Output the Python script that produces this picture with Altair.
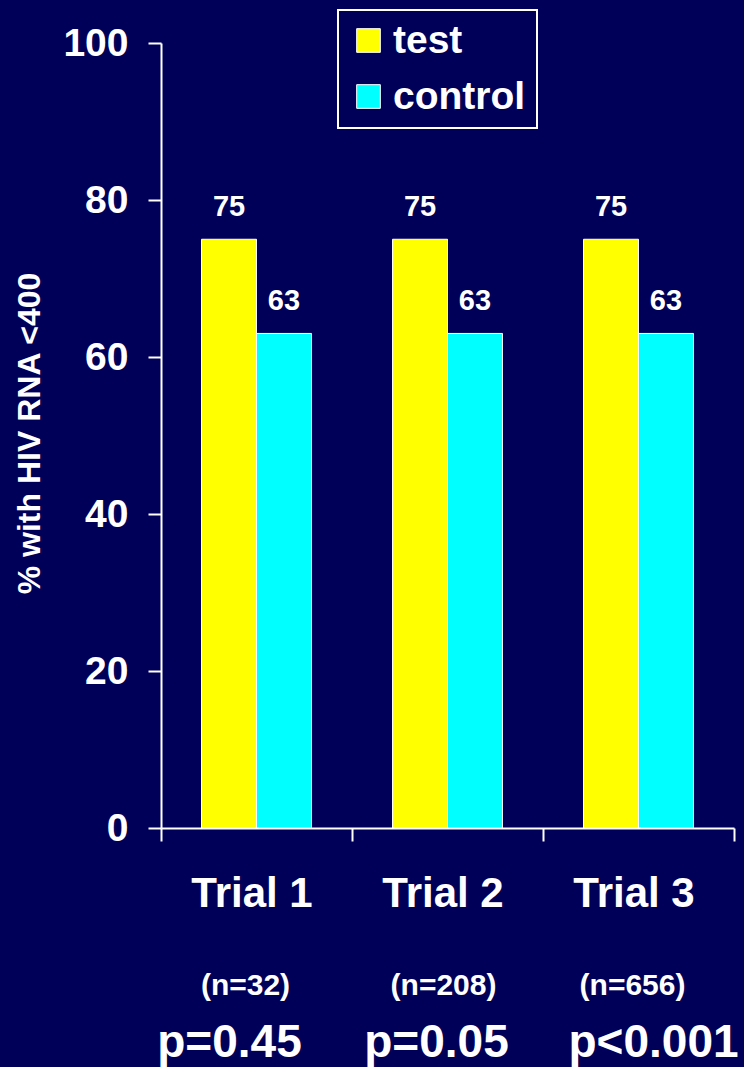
import altair as alt
import pandas as pd

# Chart data
trials = ["Trial 1", "Trial 2", "Trial 3"]
groups = ["test", "control"]
test_pct = [75, 75, 75]
control_pct = [63, 63, 63]
n_labels = ["(n=32)", "(n=208)", "(n=656)"]
p_labels = ["p=0.45", "p=0.05", "p<0.001"]

NAVY = "#000058"
FONT = "Liberation Sans"

bars_df = pd.DataFrame({
    "trial": trials * 2,
    "group": [groups[0]] * len(trials) + [groups[1]] * len(trials),
    "pct": test_pct + control_pct,
})
notes_df = pd.DataFrame({"trial": trials, "n": n_labels, "p": p_labels})

x_axis = alt.Axis(
    title=None, labelAngle=0, labelFont=FONT, labelFontWeight="bold",
    labelFontSize=42, labelColor="white", labelPadding=32, labelOffset=-5,
    tickBand="extent", tickSize=13, tickColor="white", tickWidth=2,
    domainColor="white", domainWidth=2,
)
x_enc = alt.X("trial:N", sort=trials,
              scale=alt.Scale(paddingInner=0, paddingOuter=0), axis=x_axis)

y_axis = alt.Axis(
    values=[0, 20, 40, 60, 80, 100], grid=False,
    title="% with HIV RNA <400", titleFont=FONT, titleFontSize=32,
    titleFontWeight="bold", titleColor="white", titleAngle=270,
    titleX=-132, titleY=390, titleAlign="center", titleBaseline="middle",
    labelFont=FONT, labelFontSize=39, labelFontWeight="bold",
    labelColor="white", labelPadding=20,
    tickSize=13, tickColor="white", tickWidth=2,
    domainColor="white", domainWidth=2,
)
y_enc = alt.Y("pct:Q", scale=alt.Scale(domain=[0, 100], nice=False), axis=y_axis)

offset_enc = alt.XOffset("group:N", sort=groups,
                         scale=alt.Scale(paddingInner=0, paddingOuter=0.737))

color_enc = alt.Color(
    "group:N", sort=groups,
    scale=alt.Scale(domain=groups, range=["#FFFF00", "#00FFFF"]),
    legend=alt.Legend(
        title=None, orient="none", legendX=177, legendY=-33,
        direction="vertical", labelFont=FONT, labelFontSize=39,
        labelFontWeight="bold", labelColor="white", labelOffset=5,
        symbolType="square", symbolSize=560, symbolStrokeColor="white",
        symbolStrokeWidth=1, symbolOpacity=1, rowPadding=16, padding=11,
        strokeColor="white", fillColor=NAVY,
    ),
)

base = alt.Chart(bars_df)

bars = base.mark_bar(stroke="white", strokeWidth=1).encode(
    x=x_enc, xOffset=offset_enc, y=y_enc, color=color_enc,
)

values = base.mark_text(
    dy=-23, baseline="alphabetic", font=FONT, fontSize=29,
    fontWeight="bold", color="white",
).encode(x=x_enc, xOffset=offset_enc, y=y_enc, text=alt.Text("pct:Q", format="d"))

# Sample size and p-value lines beneath each trial
n_shift = {"Trial 1": -11, "Trial 2": -4, "Trial 3": -6}
p_shift = {"Trial 1": -27, "Trial 2": -11, "Trial 3": 15}

note_layers = []
for t in trials:
    sub = alt.Chart(notes_df).transform_filter(alt.datum.trial == t)
    note_layers.append(
        sub.mark_text(dx=n_shift[t], baseline="alphabetic", font=FONT,
                      fontSize=30, fontWeight="bold", color="white")
        .encode(x=x_enc, y=alt.value(952), text="n:N")
    )
    note_layers.append(
        sub.mark_text(dx=p_shift[t], baseline="alphabetic", font=FONT,
                      fontSize=46, fontWeight="bold", color="white")
        .encode(x=x_enc, y=alt.value(1014), text="p:N")
    )

chart = alt.layer(bars, values, *note_layers).properties(
    width=573, height=785,
    padding={"left": 161, "top": 43, "right": 10, "bottom": 239},
    autosize="none", background=NAVY,
).configure_view(stroke=None).configure_legend(strokeWidth=2)

chart.save("out.html", embed_options={"renderer": "svg", "actions": False})
